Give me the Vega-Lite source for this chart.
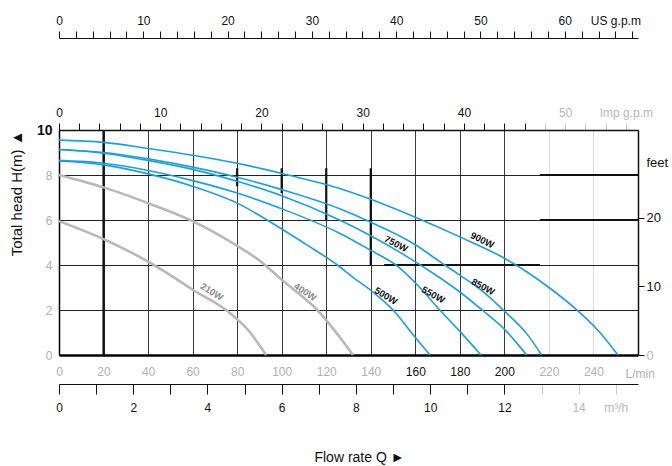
{
  "$schema": "https://vega.github.io/schema/vega-lite/v6.json",
  "width": 579,
  "height": 225,
  "autosize": "none",
  "padding": {"left": 59, "top": 130, "right": 34, "bottom": 111},
  "background": "white",
  "config": {
    "view": {"stroke": null},
    "font": "Liberation Sans",
    "axis": {"labelFont": "Liberation Sans", "titleFont": "Liberation Sans", "labelFontSize": 12, "labelOverlap": false, "labelFlush": false}
  },
  "datasets": {
    "blue": [
      {"pump": "900W", "Q": 0, "H": 9.55}, {"pump": "900W", "Q": 20, "H": 9.45}, {"pump": "900W", "Q": 40, "H": 9.18}, {"pump": "900W", "Q": 60, "H": 8.88}, {"pump": "900W", "Q": 80, "H": 8.52}, {"pump": "900W", "Q": 100, "H": 8.07}, {"pump": "900W", "Q": 126, "H": 7.4}, {"pump": "900W", "Q": 140, "H": 6.92}, {"pump": "900W", "Q": 160, "H": 6.12}, {"pump": "900W", "Q": 180, "H": 5.25}, {"pump": "900W", "Q": 200, "H": 4.3}, {"pump": "900W", "Q": 210, "H": 3.7}, {"pump": "900W", "Q": 220, "H": 3.0}, {"pump": "900W", "Q": 232, "H": 2.05}, {"pump": "900W", "Q": 242, "H": 1.1}, {"pump": "900W", "Q": 251, "H": 0},
      {"pump": "850W", "Q": 0, "H": 9.13}, {"pump": "850W", "Q": 20, "H": 9.0}, {"pump": "850W", "Q": 40, "H": 8.72}, {"pump": "850W", "Q": 60, "H": 8.35}, {"pump": "850W", "Q": 80, "H": 7.9}, {"pump": "850W", "Q": 100, "H": 7.35}, {"pump": "850W", "Q": 126, "H": 6.5}, {"pump": "850W", "Q": 140, "H": 5.9}, {"pump": "850W", "Q": 160, "H": 4.9}, {"pump": "850W", "Q": 171, "H": 4.15}, {"pump": "850W", "Q": 180, "H": 3.55}, {"pump": "850W", "Q": 190, "H": 2.85}, {"pump": "850W", "Q": 200, "H": 1.95}, {"pump": "850W", "Q": 210, "H": 0.95}, {"pump": "850W", "Q": 216.7, "H": 0},
      {"pump": "750W", "Q": 0, "H": 9.13}, {"pump": "750W", "Q": 20, "H": 8.97}, {"pump": "750W", "Q": 40, "H": 8.65}, {"pump": "750W", "Q": 60, "H": 8.25}, {"pump": "750W", "Q": 80, "H": 7.72}, {"pump": "750W", "Q": 100, "H": 7.08}, {"pump": "750W", "Q": 126, "H": 6.0}, {"pump": "750W", "Q": 140, "H": 5.3}, {"pump": "750W", "Q": 155, "H": 4.45}, {"pump": "750W", "Q": 170, "H": 3.5}, {"pump": "750W", "Q": 180, "H": 2.8}, {"pump": "750W", "Q": 190, "H": 2.0}, {"pump": "750W", "Q": 200, "H": 1.15}, {"pump": "750W", "Q": 210, "H": 0},
      {"pump": "550W", "Q": 0, "H": 8.65}, {"pump": "550W", "Q": 20, "H": 8.52}, {"pump": "550W", "Q": 40, "H": 8.2}, {"pump": "550W", "Q": 60, "H": 7.75}, {"pump": "550W", "Q": 80, "H": 7.2}, {"pump": "550W", "Q": 100, "H": 6.5}, {"pump": "550W", "Q": 126, "H": 5.41}, {"pump": "550W", "Q": 140, "H": 4.65}, {"pump": "550W", "Q": 152, "H": 3.95}, {"pump": "550W", "Q": 162, "H": 3.0}, {"pump": "550W", "Q": 171, "H": 2.0}, {"pump": "550W", "Q": 180, "H": 1.05}, {"pump": "550W", "Q": 189.5, "H": 0},
      {"pump": "500W", "Q": 0, "H": 8.62}, {"pump": "500W", "Q": 20, "H": 8.45}, {"pump": "500W", "Q": 40, "H": 8.05}, {"pump": "500W", "Q": 60, "H": 7.5}, {"pump": "500W", "Q": 80, "H": 6.75}, {"pump": "500W", "Q": 100, "H": 5.6}, {"pump": "500W", "Q": 112, "H": 4.85}, {"pump": "500W", "Q": 125, "H": 4.0}, {"pump": "500W", "Q": 132, "H": 3.45}, {"pump": "500W", "Q": 141, "H": 2.8}, {"pump": "500W", "Q": 150, "H": 2.0}, {"pump": "500W", "Q": 159, "H": 0.9}, {"pump": "500W", "Q": 166.6, "H": 0}
    ],
    "gray": [
      {"pump": "400W", "Q": 0, "H": 8.0}, {"pump": "400W", "Q": 20, "H": 7.45}, {"pump": "400W", "Q": 40, "H": 6.75}, {"pump": "400W", "Q": 60, "H": 5.95}, {"pump": "400W", "Q": 80, "H": 4.85}, {"pump": "400W", "Q": 90, "H": 4.2}, {"pump": "400W", "Q": 100, "H": 3.35}, {"pump": "400W", "Q": 108, "H": 2.7}, {"pump": "400W", "Q": 116, "H": 2.0}, {"pump": "400W", "Q": 126, "H": 0.8}, {"pump": "400W", "Q": 132, "H": 0},
      {"pump": "210W", "Q": 0, "H": 5.95}, {"pump": "210W", "Q": 20, "H": 5.15}, {"pump": "210W", "Q": 40, "H": 4.15}, {"pump": "210W", "Q": 50, "H": 3.55}, {"pump": "210W", "Q": 60, "H": 2.9}, {"pump": "210W", "Q": 75, "H": 2.0}, {"pump": "210W", "Q": 85, "H": 1.1}, {"pump": "210W", "Q": 93, "H": 0}
    ],
    "bluelabels": [
      {"label": "900W", "Q": 190, "H": 5.1},
      {"label": "750W", "Q": 151.3, "H": 4.93},
      {"label": "850W", "Q": 190.4, "H": 3.02},
      {"label": "550W", "Q": 168, "H": 2.67},
      {"label": "500W", "Q": 146.8, "H": 2.62}
    ],
    "graylabels": [
      {"label": "210W", "Q": 68.6, "H": 2.8},
      {"label": "400W", "Q": 110.5, "H": 2.8}
    ],
    "thick": [
      {"Q": 20, "Q2": 20, "H": 0, "H2": 10},
      {"Q": 216, "Q2": 260, "H": 8, "H2": 8},
      {"Q": 216, "Q2": 260, "H": 6, "H2": 6},
      {"Q": 146, "Q2": 216, "H": 4, "H2": 4},
      {"Q": 140, "Q2": 140, "H": 4, "H2": 8.3},
      {"Q": 80, "Q2": 80, "H": 7.5, "H2": 8.3},
      {"Q": 100, "Q2": 100, "H": 7.2, "H2": 8.3},
      {"Q": 120, "Q2": 120, "H": 6.0, "H2": 8.3}
    ],
    "usgpm": [{"v": 0}, {"v": 68}],
    "impgpm": [{"v": 0}, {"v": 56}],
    "m3h": [{"v": 0}, {"v": 15}],
    "feet": [{"v": 0}, {"v": 30}]
  },
  "layer": [
    {
      "encoding": {
        "x": {
          "field": "Q", "type": "quantitative",
          "scale": {"domain": [0, 260], "nice": false, "zero": false},
          "axis": {
            "orient": "bottom",
            "values": [0, 20, 40, 60, 80, 100, 120, 140, 160, 180, 200, 220, 240],
            "grid": true,
            "gridColor": {"condition": {"test": "datum.value >= 220", "value": "#dcdcdc"}, "value": "#3a3a3a"},
            "gridWidth": 1,
            "ticks": false,
            "domainColor": "#000",
            "domainWidth": 2.5,
            "labelPadding": 11,
            "labelColor": {"condition": {"test": "datum.value >= 160 && datum.value <= 200", "value": "#111"}, "value": "#b0b0b0"},
            "title": "L/min",
            "titleColor": "#b0b0b0",
            "titleFontSize": 12,
            "titleFontWeight": "normal",
            "titleAlign": "left",
            "titleBaseline": "middle",
            "titleAngle": 0,
            "titleX": 566,
            "titleY": 18
          }
        },
        "y": {
          "field": "H", "type": "quantitative",
          "scale": {"domain": [0, 10], "nice": false, "zero": false},
          "axis": {
            "orient": "left",
            "values": [0, 2, 4, 6, 8, 10],
            "grid": true,
            "gridColor": "#222",
            "gridWidth": 1,
            "ticks": false,
            "domainColor": "#000",
            "domainWidth": 1.5,
            "labelPadding": 7,
            "labelColor": {"condition": {"test": "datum.value == 10", "value": "#111"}, "value": "#b0b0b0"},
            "labelFontWeight": {"condition": {"test": "datum.value == 10", "value": "bold"}, "value": "normal"},
            "labelFontSize": {"condition": {"test": "datum.value == 10", "value": 14}, "value": 12},
            "title": "Total  head H(m) ▲",
            "titleFontSize": 15,
            "titleFontWeight": "normal",
            "titleColor": "#111",
            "titlePadding": 12,
            "titleAnchor": "end"
          }
        }
      },
      "layer": [
        {
          "data": {"name": "thick"},
          "mark": {"type": "rule", "color": "#111", "strokeWidth": 2.2},
          "encoding": {"x2": {"field": "Q2"}, "y2": {"field": "H2"}}
        },
        {
          "data": {"name": "gray"},
          "mark": {"type": "line", "color": "#b8b8b8", "strokeWidth": 2.6, "interpolate": "monotone"},
          "encoding": {"detail": {"field": "pump", "type": "nominal"}}
        },
        {
          "data": {"name": "blue"},
          "mark": {"type": "line", "color": "#1aa0de", "strokeWidth": 1.6, "interpolate": "monotone"},
          "encoding": {"detail": {"field": "pump", "type": "nominal"}}
        },
        {
          "data": {"name": "bluelabels"},
          "mark": {"type": "text", "fontSize": 9.5, "fontWeight": "bold", "color": "#111", "font": "Liberation Sans"},
          "encoding": {
            "text": {"field": "label"},
            "angle": {"field": "label", "type": "nominal", "scale": {"domain": ["900W", "750W", "850W", "550W", "500W"], "range": [26, 33, 38, 42, 47]}, "legend": null}
          }
        },
        {
          "data": {"name": "graylabels"},
          "mark": {"type": "text", "fontSize": 9.5, "fontWeight": "bold", "color": "#8a8a8a", "font": "Liberation Sans"},
          "encoding": {
            "text": {"field": "label"},
            "angle": {"field": "label", "type": "nominal", "scale": {"domain": ["210W", "400W"], "range": [40, 45]}, "legend": null}
          }
        }
      ]
    },
    {
      "data": {"name": "usgpm"},
      "mark": {"type": "point", "opacity": 0},
      "encoding": {
        "x": {
          "field": "v", "type": "quantitative",
          "scale": {"domain": [0, 68.685], "nice": false, "zero": false},
          "axis": {
            "orient": "top", "offset": 92,
            "values": [0, 2, 4, 6, 8, 10, 12, 14, 16, 18, 20, 22, 24, 26, 28, 30, 32, 34, 36, 38, 40, 42, 44, 46, 48, 50, 52, 54, 56, 58, 60, 62, 64, 66, 68],
            "tickSize": 7, "tickColor": "#111", "domainColor": "#111", "domainWidth": 1,
            "labelExpr": "datum.value % 10 === 0 ? datum.label : (datum.value === 66 ? 'US g.p.m' : '')",
            "labelColor": "#111", "labelPadding": 4,
            "title": null
          }
        }
      }
    },
    {
      "data": {"name": "impgpm"},
      "mark": {"type": "point", "opacity": 0},
      "encoding": {
        "x": {
          "field": "v", "type": "quantitative",
          "scale": {"domain": [0, 57.193], "nice": false, "zero": false},
          "axis": {
            "orient": "top", "offset": 0,
            "values": [0, 2, 4, 6, 8, 10, 12, 14, 16, 18, 20, 22, 24, 26, 28, 30, 32, 34, 36, 38, 40, 42, 44, 46, 48, 50, 52, 54, 56],
            "tickSize": 7,
            "tickColor": {"condition": {"test": "datum.value >= 48", "value": "#c8c8c8"}, "value": "#111"},
            "domainColor": "#111", "domainWidth": 1.5,
            "labelExpr": "datum.value % 10 === 0 ? datum.label : (datum.value === 56 ? 'Imp g.p.m' : '')",
            "labelColor": {"condition": {"test": "datum.value >= 50", "value": "#b8b8b8"}, "value": "#111"},
            "labelPadding": 4,
            "title": null
          }
        }
      }
    },
    {
      "data": {"name": "m3h"},
      "mark": {"type": "point", "opacity": 0},
      "encoding": {
        "x": {
          "field": "v", "type": "quantitative",
          "scale": {"domain": [0, 15.6], "nice": false, "zero": false},
          "axis": {
            "orient": "bottom", "offset": 29,
            "values": [0, 1, 2, 3, 4, 5, 6, 7, 8, 9, 10, 11, 12, 13, 14, 15],
            "tickSize": 10,
            "tickColor": {"condition": {"test": "datum.value >= 13", "value": "#c8c8c8"}, "value": "#111"},
            "domainColor": "#111", "domainWidth": 1.2,
            "labelExpr": "datum.value % 2 === 0 ? datum.label : (datum.value === 15 ? 'm³/h' : '')",
            "labelColor": {"condition": {"test": "datum.value >= 14", "value": "#b8b8b8"}, "value": "#111"},
            "labelPadding": 8,
            "title": "Flow rate   Q  ►",
            "titleFontSize": 14,
            "titleFontWeight": "normal",
            "titleColor": "#111",
            "titlePadding": 37,
            "titleX": 300
          }
        }
      }
    },
    {
      "data": {"name": "feet"},
      "mark": {"type": "point", "opacity": 0},
      "encoding": {
        "y": {
          "field": "v", "type": "quantitative",
          "scale": {"domain": [0, 32.808], "nice": false, "zero": false},
          "axis": {
            "orient": "right",
            "values": [0, 10, 20, 28],
            "tickSize": 6,
            "tickColor": {"condition": {"test": "datum.value === 28", "value": "transparent"}, "value": "#111"},
            "domainColor": "#111", "domainWidth": 1.5,
            "labelExpr": "datum.value === 28 ? 'feet' : datum.label",
            "labelColor": {"condition": {"test": "datum.value === 0", "value": "#b8b8b8"}, "value": "#111"},
            "labelFontSize": 13,
            "labelPadding": 2,
            "title": null
          }
        }
      }
    }
  ],
  "resolve": {
    "scale": {"x": "independent", "y": "independent"},
    "axis": {"x": "independent", "y": "independent"}
  }
}
